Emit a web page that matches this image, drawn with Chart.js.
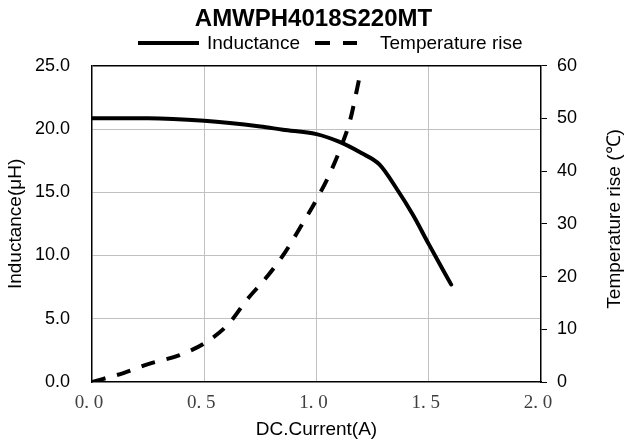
<!DOCTYPE html>
<html>
<head>
<meta charset="utf-8">
<script src="https://cdn.jsdelivr.net/npm/chart.js@4.4.1/dist/chart.umd.min.js"></script>
<style>
html,body{margin:0;padding:0;background:#fff;}
#wrap{width:627px;height:444px;position:relative;}
</style>
</head>
<body>
<div id="wrap"><canvas id="c" width="627" height="444"></canvas></div>
<script>
const chartTitle = 'AMWPH4018S220MT';
const xTitle = 'DC.Current(A)';
const yLeftTitle = 'Inductance(\u03bcH)';
const yRightTitle = 'Temperature rise (\u2103)';

const currentL   = [0, 0.25, 0.5, 0.75, 0.85, 1.0, 1.1, 1.2, 1.28, 1.36, 1.43, 1.5, 1.6];
const inductance = [20.85, 20.85, 20.65, 20.2, 19.95, 19.6, 19.0, 18.1, 17.2, 15.2, 13.2, 10.9, 7.7];

const currentT = [0, 0.14, 0.25, 0.39, 0.51, 0.61, 0.69, 0.78, 0.86, 0.93, 1.0, 1.06, 1.11, 1.15, 1.19];
const tempRise = [0, 1.7, 3.4, 5.1, 7.6, 11.1, 15.6, 20.0, 24.6, 29.5, 34.6, 39.6, 44.7, 49.7, 57.5];

const seriesNames = ['Inductance', 'Temperature rise'];

const sans = 'Liberation Sans, Arial, sans-serif';
const serif = 'Liberation Serif, Times New Roman, serif';

// legend drawn from the datasets' own styles, plus the right-axis title read bottom-to-top
const extrasPlugin = {
  id: 'extras',
  afterDraw(chart) {
    const ctx = chart.ctx;
    const y = 43;
    const slots = [
      {x0: 138, x1: 199, tx: 207},
      {x0: 315, x1: 357, tx: 380}
    ];
    ctx.save();
    ctx.font = '19px ' + sans;
    ctx.textBaseline = 'middle';
    ctx.textAlign = 'left';
    chart.data.datasets.forEach((ds, i) => {
      const s = slots[i];
      ctx.beginPath();
      ctx.strokeStyle = ds.borderColor;
      ctx.lineWidth = ds.borderWidth;
      ctx.lineCap = 'butt';
      ctx.setLineDash(ds.borderDash ? [15, 13] : []);
      ctx.moveTo(s.x0, y);
      ctx.lineTo(s.x1, y);
      ctx.stroke();
      ctx.setLineDash([]);
      ctx.fillStyle = '#000';
      ctx.fillText(ds.label, s.tx, y + 1);
    });
    ctx.restore();

    const sc = chart.scales.y2;
    ctx.save();
    ctx.font = '19px ' + sans;
    ctx.fillStyle = '#000';
    ctx.textAlign = 'center';
    ctx.textBaseline = 'middle';
    ctx.translate(sc.right - 12, (sc.top + sc.bottom) / 2 - 5);
    ctx.rotate(-Math.PI / 2);
    ctx.fillText(yRightTitle, 0, 0);
    ctx.restore();
  }
};

new Chart(document.getElementById('c'), {
  type: 'scatter',
  data: {
    datasets: [
      {
        label: seriesNames[0],
        data: currentL.map((x, i) => ({x: x, y: inductance[i]})),
        yAxisID: 'y',
        showLine: true,
        borderColor: '#000',
        backgroundColor: '#000',
        borderWidth: 4,
        borderCapStyle: 'round',
        borderJoinStyle: 'round',
        pointRadius: 0,
        cubicInterpolationMode: 'monotone'
      },
      {
        label: seriesNames[1],
        data: currentT.map((x, i) => ({x: x, y: tempRise[i]})),
        yAxisID: 'y2',
        showLine: true,
        borderColor: '#000',
        backgroundColor: '#000',
        borderWidth: 4,
        borderDash: [14, 12],
        borderCapStyle: 'butt',
        pointRadius: 0,
        cubicInterpolationMode: 'monotone'
      }
    ]
  },
  plugins: [extrasPlugin],
  options: {
    responsive: false,
    animation: false,
    devicePixelRatio: 1,
    layout: {padding: {top: 1, bottom: 0, left: 0, right: 0}},
    plugins: {
      tooltip: {enabled: false},
      legend: {display: false},
      title: {
        display: true,
        text: chartTitle,
        color: '#000',
        font: {family: sans, size: 24, weight: 'bold'},
        padding: {top: 4, bottom: 32}
      }
    },
    scales: {
      x: {
        type: 'linear',
        min: 0, max: 2,
        afterFit: s => { s.height = 62; },
        ticks: {
          stepSize: 0.5,
          color: '#404040',
          font: {family: serif, size: 19},
          padding: 10,
          labelOffset: -3,
          callback: v => v.toFixed(1).replace('.', '. ')
        },
        grid: {
          drawTicks: false,
          color: c => (c.tick && (c.tick.value === 0 || c.tick.value === 2)) ? 'rgba(0,0,0,0)' : '#c0c0c0',
          lineWidth: 1
        },
        border: {display: true, color: '#000', width: 1.5},
        title: {
          display: true, text: xTitle, color: '#000',
          font: {family: sans, size: 19},
          padding: {top: 0, bottom: 3}
        }
      },
      y: {
        type: 'linear',
        position: 'left',
        min: 0, max: 25,
        afterFit: s => { s.width = 92; },
        ticks: {
          stepSize: 5,
          color: '#000',
          font: {family: sans, size: 18},
          padding: 22,
          callback: v => v.toFixed(1)
        },
        grid: {
          drawTicks: false,
          color: c => (c.tick && c.tick.value === 25) ? '#000' : ((c.tick && c.tick.value === 0) ? 'rgba(0,0,0,0)' : '#c0c0c0'),
          lineWidth: c => (c.tick && c.tick.value === 25) ? 1.5 : 1
        },
        border: {display: true, color: '#000', width: 1.5},
        title: {
          display: true, text: yLeftTitle, color: '#000',
          font: {family: sans, size: 19},
          padding: {top: 4, bottom: 0}
        }
      },
      y2: {
        type: 'linear',
        position: 'right',
        min: 0, max: 60,
        afterFit: s => { s.width = 86; },
        ticks: {
          stepSize: 10,
          color: '#000',
          font: {family: sans, size: 18},
          padding: 10,
          callback: v => String(v)
        },
        grid: {
          drawOnChartArea: false,
          drawTicks: true,
          tickLength: 6,
          color: '#000',
          lineWidth: 1
        },
        border: {display: true, color: '#000', width: 1.5},
        title: {display: false, text: yRightTitle}
      }
    }
  }
});
</script>
</body>
</html>
